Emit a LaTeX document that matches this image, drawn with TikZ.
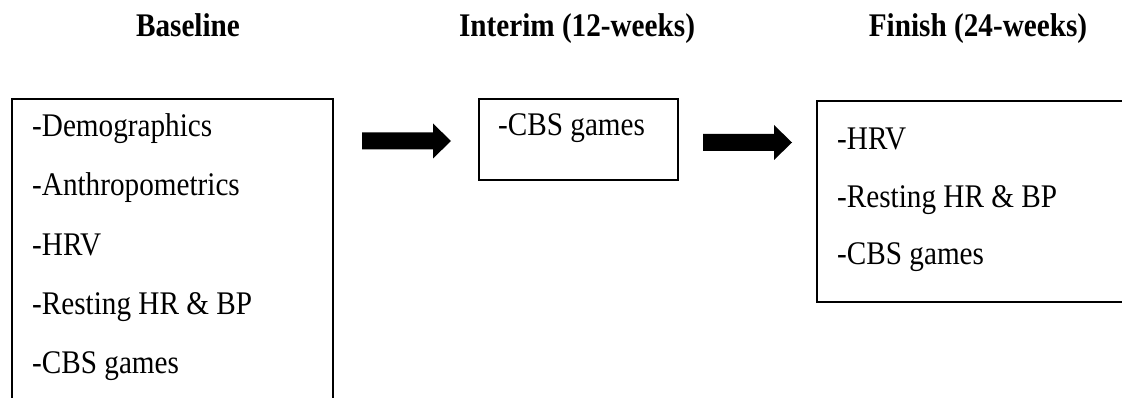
\documentclass[tikz,border=0pt]{standalone}
\usepackage{fontspec}
\setmainfont[FakeStretch=0.885]{Liberation Serif}
\begin{document}
\begin{tikzpicture}[x=1pt,y=-1pt,
  box/.style={draw=black, line width=2pt, rectangle, inner sep=0pt, anchor=north west},
  item/.style={anchor=base west, inner sep=0pt, font=\fontsize{33}{40}\selectfont},
  head/.style={anchor=base, inner sep=0pt, font=\fontsize{33}{40}\selectfont\bfseries},
  blockarrow/.style={fill=black, draw=none}]
\useasboundingbox (0,0) rectangle (1122,398);
% headers
\node[head] (h1) at (188,37) {Baseline};
\node[head] (h2) at (577,37) {Interim (12-weeks)};
\node[head] (h3) at (978,37) {Finish (24-weeks)};
% boxes
\node[box, minimum width=321pt, minimum height=330pt] (base) at (11,98) {};
\node[box, minimum width=199pt, minimum height=81pt] (mid) at (478,98) {};
\node[box, minimum width=320pt, minimum height=201pt] (fin) at (816,100) {};
% baseline items
\node[item] (b1) at (32,137) {-Demographics};
\node[item] (b2) at (32,196) {-Anthropometrics};
\node[item] (b3) at (32,255) {-HRV};
\node[item] (b4) at (32,314) {-Resting HR \& BP};
\node[item] (b5) at (32,373) {-CBS games};
% interim items
\node[item] (m1) at (498,136) {-CBS games};
% finish items
\node[item] (f1) at (837,150) {-HRV};
\node[item] (f2) at (837,208) {-Resting HR \& BP};
\node[item] (f3) at (837,265) {-CBS games};
% block arrows
\fill[blockarrow] (362,132.5) -- (433,132.5) -- (433,123.5) -- (451,141) -- (433,158.5) -- (433,149.5) -- (362,149.5) -- cycle;
\fill[blockarrow] (703,134) -- (774,134) -- (774,125) -- (792,142.5) -- (774,160) -- (774,151) -- (703,151) -- cycle;
\end{tikzpicture}
\end{document}
